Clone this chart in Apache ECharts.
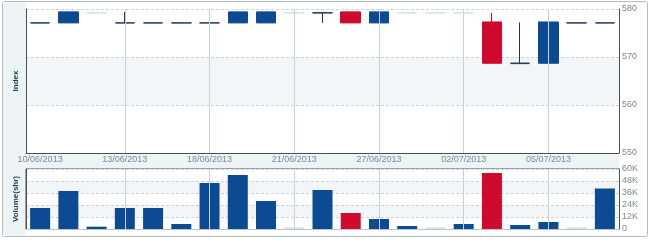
<!DOCTYPE html>
<html><head><meta charset="utf-8">
<script src="https://cdn.jsdelivr.net/npm/echarts@6/dist/echarts.min.js"></script>
<style>html,body{margin:0;padding:0;background:#fff}#c{width:650px;height:242px}</style>
</head><body><div id="c"></div>
<script>
// ---- data ----
const dates = ['10/06/2013','11/06/2013','12/06/2013','13/06/2013','14/06/2013','17/06/2013','18/06/2013',
  '19/06/2013','20/06/2013','21/06/2013','24/06/2013','25/06/2013','27/06/2013','28/06/2013',
  '01/07/2013','02/07/2013','03/07/2013','04/07/2013','05/07/2013','08/07/2013','09/07/2013'];
const openP  = [577.1, 577.1, null, 577.1, 577.1, 577.1, 577.1, 577.1, 577.1, null, 579.2, 579.4, 577.1, null, null, null, 577.3, 568.7, 568.7, 577.1, 577.1];
const closeP = [577.1, 579.4, null, 577.1, 577.1, 577.1, 577.1, 579.4, 579.4, null, 579.2, 577.1, 579.4, null, null, null, 568.7, 568.7, 577.3, 577.1, 577.1];
const lowP   = [577.1, 577.1, null, 577.1, 577.1, 577.1, 577.1, 577.1, 577.1, null, 577.1, 577.1, 577.1, null, null, null, 568.7, 568.7, 568.7, 577.1, 577.1];
const highP  = [577.1, 579.4, null, 579.4, 577.1, 577.1, 577.1, 579.4, 579.4, null, 579.2, 579.4, 579.4, null, null, null, 579.2, 577.2, 577.3, 577.1, 577.1];
const noTradeP = [null, null, 579.2, null, null, null, null, null, null, 579.2, 579.2, null, null, 579.2, 579.2, 579.2, null, 568.5, null, null, null];
const volume = [21000, 38000, 2300, 21000, 21000, 5000, 46000, 54000, 28000, 0, 39000, 16000, 10000, 3000, 0, 5000, 56000, 4000, 7000, 0, 40500];
const noTradeVol = [null, null, null, null, null, null, null, null, null, 1500, null, null, null, null, 1500, null, null, null, null, 1500, null];
const indexTicks = [550, 560, 570, 580];
const volTicks = [0, 12000, 24000, 36000, 48000, 60000];
const gridLineDates = [dates[3], dates[6], dates[9], dates[12], dates[15], dates[18]];

// ---- styles ----
const UP = '#0d4a94', DOWN = '#cf0a2c', DOJI = '#1d3557', GHOST = '#d3e0e8';
const FONT = 'Liberation Sans, Arial, sans-serif';

const candleData = dates.map((d, i) => {
  if (openP[i] == null) return ['-', '-', '-', '-'];
  const o = openP[i], c = closeP[i];
  const item = { value: [o, c, lowP[i], highP[i]] };
  if (o === c) item.itemStyle = { color: DOJI, color0: DOJI, borderColor: DOJI, borderColor0: DOJI };
  return item;
});
const ghostData = noTradeP.map(v => v == null ? ['-', '-', '-', '-'] : [v, v, v, v]);
const volData = volume.map((v, i) => ({
  value: v,
  itemStyle: { color: (openP[i] != null && closeP[i] < openP[i]) ? DOWN : UP }
}));
const vLines = gridLineDates.map(d => ({ xAxis: d }));

const chart = echarts.init(document.getElementById('c'), null, { renderer: 'canvas' });
chart.setOption({
  animation: false,
  backgroundColor: '#ffffff',
  graphic: [
    { type: 'rect', shape: { x: 2.5, y: 1.5, width: 645, height: 235, r: 2 }, style: { fill: '#ffffff', stroke: '#b4bcc0', lineWidth: 1 }, z: -10 },
    { type: 'rect', shape: { x: 3, y: 2, width: 23, height: 234 }, style: { fill: '#eef3f6' }, z: -9 },
    { type: 'rect', shape: { x: 26, y: 153, width: 593, height: 16 }, style: { fill: '#eef3f6' }, z: -9 }
  ],
  grid: [
    { left: 26, right: 31, top: 9, height: 144, show: true, backgroundColor: '#ffffff', borderWidth: 0 },
    { left: 26, right: 31, top: 169, height: 60, show: true, backgroundColor: '#ffffff', borderColor: '#4a4f55', borderWidth: 1 }
  ],
  xAxis: [
    { type: 'category', gridIndex: 0, data: dates, boundaryGap: true,
      axisLine: { show: true, lineStyle: { color: '#4a4f55', width: 1 } },
      axisTick: { show: false },
      axisLabel: { interval: 2, margin: 2, fontSize: 9, color: '#7a8a93', fontFamily: FONT },
      splitLine: { show: false } },
    { type: 'category', gridIndex: 1, data: dates, boundaryGap: true,
      axisLine: { show: true, lineStyle: { color: '#b8c6cd', width: 1 } },
      axisTick: { show: false }, axisLabel: { show: false }, splitLine: { show: false } }
  ],
  yAxis: [
    { type: 'value', gridIndex: 0, position: 'right', min: indexTicks[0], max: indexTicks[indexTicks.length - 1], interval: 10,
      axisLine: { show: true, lineStyle: { color: '#4a4f55' } }, axisTick: { show: false },
      axisLabel: { margin: 3, fontSize: 9, color: '#7a8a93', fontFamily: FONT },
      splitLine: { show: true, lineStyle: { color: '#c9d3d8', type: [3, 2] } },
      splitArea: { show: true, areaStyle: { color: ['#ffffff', '#f3f6f8'] } } },
    { type: 'value', gridIndex: 1, position: 'right', min: volTicks[0], max: volTicks[volTicks.length - 1], interval: 12000,
      axisLine: { show: true, lineStyle: { color: '#4a4f55' } }, axisTick: { show: false },
      axisLabel: { margin: 3, fontSize: 9, color: '#7a8a93', fontFamily: FONT,
        formatter: v => v === 0 ? '0' : (v / 1000) + 'K' },
      splitLine: { show: true, lineStyle: { color: '#c9d3d8', type: [3, 2] } },
      splitArea: { show: true, areaStyle: { color: ['#ffffff', '#f3f6f8'] } } },
    { type: 'value', gridIndex: 0, position: 'left', min: 550, max: 580,
      axisLine: { show: true, lineStyle: { color: '#4a4f55' } }, axisTick: { show: false }, axisLabel: { show: false },
      splitLine: { show: false },
      name: 'Index', nameLocation: 'middle', nameGap: 6, nameRotate: 90,
      nameTextStyle: { fontSize: 8, fontWeight: 'bold', color: '#1f4157', fontFamily: FONT } },
    { type: 'value', gridIndex: 1, position: 'left', min: 0, max: 60000,
      axisLine: { show: true, lineStyle: { color: '#4a4f55' } }, axisTick: { show: false }, axisLabel: { show: false },
      splitLine: { show: false },
      name: 'Volume(shr)', nameLocation: 'middle', nameGap: 6, nameRotate: 90,
      nameTextStyle: { fontSize: 8, fontWeight: 'bold', color: '#1f4157', fontFamily: FONT } }
  ],
  series: [
    { type: 'line', xAxisIndex: 0, yAxisIndex: 0, z: 1, data: dates.map(() => '-'), silent: true,
      markLine: { silent: true, symbol: 'none', label: { show: false }, animation: false,
        lineStyle: { color: '#c3d3da', type: 'solid', width: 1 }, data: vLines } },
    { type: 'line', xAxisIndex: 1, yAxisIndex: 1, z: 1, data: dates.map(() => '-'), silent: true,
      markLine: { silent: true, symbol: 'none', label: { show: false }, animation: false,
        lineStyle: { color: '#c3d3da', type: 'solid', width: 1 }, data: vLines } },
    { name: 'No trade', type: 'candlestick', xAxisIndex: 0, yAxisIndex: 0, z: 3, barWidth: 20, data: ghostData,
      itemStyle: { color: GHOST, color0: GHOST, borderColor: GHOST, borderColor0: GHOST, borderWidth: 1 } },
    { name: 'Index', type: 'candlestick', xAxisIndex: 0, yAxisIndex: 0, z: 4, barWidth: 20, data: candleData,
      itemStyle: { color: UP, color0: DOWN, borderColor: UP, borderColor0: DOWN, borderWidth: 1 } },
    { name: 'Volume', type: 'bar', xAxisIndex: 1, yAxisIndex: 1, z: 4, barWidth: 20, barGap: '-100%', data: volData },
    { name: 'No trade vol', type: 'bar', xAxisIndex: 1, yAxisIndex: 1, z: 3, barWidth: 20, barGap: '-100%', data: noTradeVol,
      itemStyle: { color: GHOST } }
  ]
});
</script></body></html>
